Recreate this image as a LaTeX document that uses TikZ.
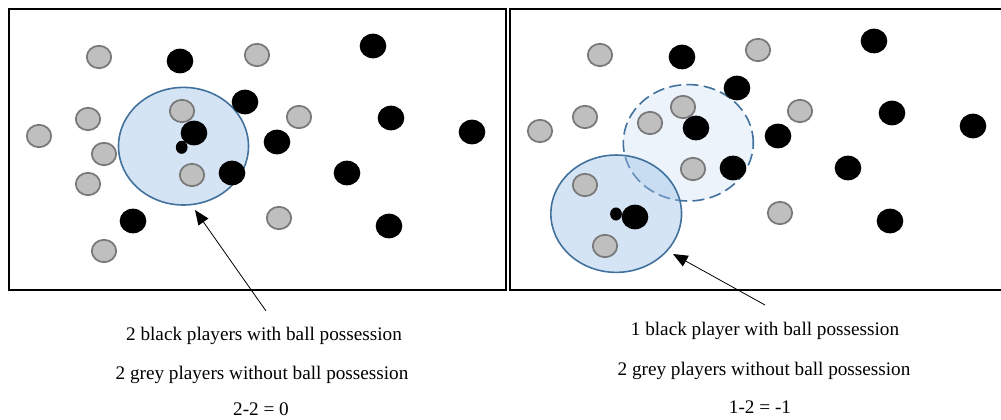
\documentclass[tikz,border=0pt]{standalone}
\usepackage{fontspec}
\setmainfont{Liberation Serif}
\usetikzlibrary{shapes.geometric,arrows.meta}
\definecolor{gfill}{RGB}{191,191,191}
\definecolor{gline}{RGB}{120,120,120}
\definecolor{zline}{RGB}{65,113,156}
\definecolor{zfill}{RGB}{150,188,230}
\begin{document}
\begin{tikzpicture}[x=0.75pt,y=-0.75pt,
  greyp/.style={ellipse,draw=gline,fill=gfill,line width=1.3pt,minimum width=18.3pt,minimum height=16.8pt,inner sep=0pt},
  blackp/.style={ellipse,fill=black,minimum width=20pt,minimum height=18.5pt,inner sep=0pt},
  ballp/.style={ellipse,fill=black,minimum width=8.8pt,minimum height=9.8pt,inner sep=0pt},
  zone/.style={ellipse,draw=zline,line width=1.2pt,fill=zfill,inner sep=0pt},
  pitch/.style={draw=black,line width=1.5pt},
  pointer/.style={draw=black,line width=0.6pt,-{Triangle[length=11pt,width=9pt]}},
  caption/.style={anchor=base,inner sep=0pt,font=\fontsize{14.4}{17}\selectfont}]
\useasboundingbox (0,0) rectangle (1001,420);
% pitches
\draw[pitch] (9,9) rectangle (505.5,290);
\draw[pitch] (510,9) rectangle (1004,290);
% zones
\node[zone,fill opacity=0.4,minimum width=97.5pt,minimum height=88.2pt] (zoneL) at (183.5,146.2) {};
\node[zone,fill opacity=0.18,dash pattern=on 9pt off 4pt,minimum width=97.5pt,minimum height=87.3pt] (zoneR2) at (688.3,142.8) {};
\node[zone,fill opacity=0.4,minimum width=98pt,minimum height=88pt] (zoneR1) at (616.2,213.7) {};
% left players
\foreach \x/\y [count=\i] in {99/57,257/55,88/119,39/136,104/154,88/184,182/111,192/175,299/117,279/218,104/251}
  \node[greyp] (gL\i) at (\x,\y) {};
\foreach \x/\y [count=\i] in {180/61,373/46,245/102,194/133,277/142,232/173,391/118,472/132,347/173,133/221,389/226}
  \node[blackp] (bL\i) at (\x,\y) {};
\node[ballp] (ballL) at (181.7,147.3) {};
% right players
\foreach \x/\y [count=\i] in {600/55,758/50,585/117,540/131,683/107,650/123,693/169,800/111,780/213,585/185,605/246}
  \node[greyp] (gR\i) at (\x,\y) {};
\foreach \x/\y [count=\i] in {682/57,874/41,737/88,696/128,778/136,733/168,892/113,973/126,848/168,890/221,635/217}
  \node[blackp] (bR\i) at (\x,\y) {};
\node[ballp] (ballR) at (616,214) {};
% pointers
\coordinate (tailL) at (266,311);
\coordinate (tipL) at (195,210);
\coordinate (tailR) at (765,305);
\coordinate (tipR) at (673,254);
\draw[pointer] (tailL) -- (tipL);
\draw[pointer] (tailR) -- (tipR);
% captions
\node[caption] (tL1) at (264,341) {2 black players with ball possession};
\node[caption] (tL2) at (262,380) {2 grey players without ball possession};
\node[caption] (tL3) at (261,416) {2-2 = 0};
\node[caption] (tR1) at (765,336) {1 black player with ball possession};
\node[caption] (tR2) at (764,376) {2 grey players without ball possession};
\node[caption] (tR3) at (760,414) {1-2 = -1};
\end{tikzpicture}
\end{document}
